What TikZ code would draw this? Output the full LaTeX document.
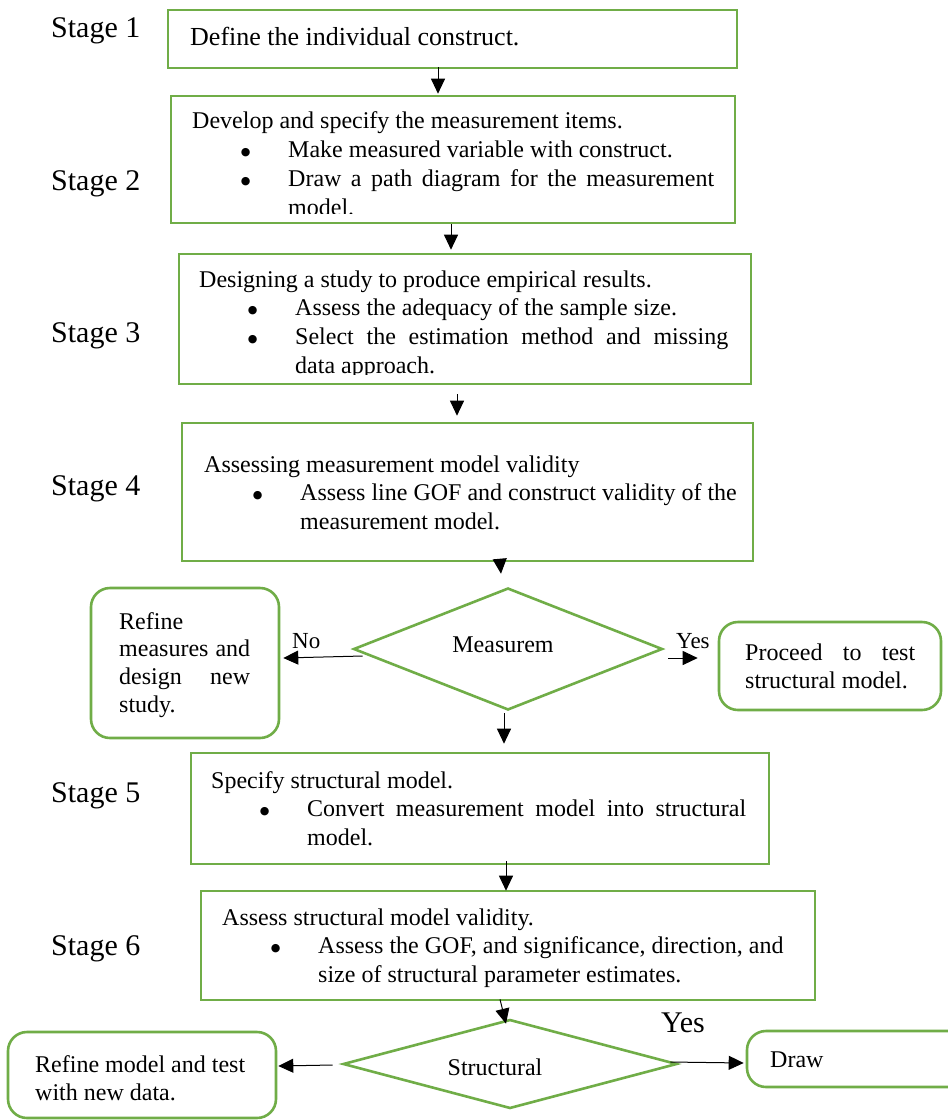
\documentclass[tikz,border=0pt]{standalone}
\usepackage{fontspec}
\setmainfont{Liberation Serif}
\newfontfamily\symfont{DejaVu Sans}
\usetikzlibrary{arrows.meta,shapes.geometric}
\definecolor{boxgreen}{RGB}{112,173,71}
% a justified line of fixed width
\newcommand{\jline}[2]{\hbox to #1{\spaceskip=.25em plus 1fil\relax #2}}
% bulleted line and its continuation
\newcommand{\bigbullet}{\raisebox{2pt}{\symfont\fontsize{11}{11}\selectfont ●}}
\newcommand{\bitem}[1]{\hbox{\kern53.5pt\hbox to 0pt{\hss\bigbullet\hss}\kern42.5pt #1}}
\newcommand{\contline}[1]{\hbox{\kern96pt #1}}
% stack of lines, baseline at the first one
\newcommand{\linestack}[2]{\vtop{\baselineskip=#1\relax\lineskiplimit=-100pt #2}}
\tikzset{
  stagebox/.style={draw=boxgreen, line width=2.6pt, rectangle, inner sep=0pt},
  sidebox/.style={stagebox, rounded corners=19pt},
  decision/.style={draw=boxgreen, line width=2.6pt, diamond, inner sep=0pt},
  txt/.style={inner sep=0pt, anchor=base west, font=\fontsize{24}{29}\selectfont},
  midtxt/.style={txt, anchor=base},
  stagelabel/.style={txt, font=\fontsize{30}{36}\selectfont},
  arr/.style={-{Triangle[length=15pt,width=14pt]}, line width=1pt, black},
}
\begin{document}
\begin{tikzpicture}[x=1pt,y=-1pt]
\fill[white] (0,0) rectangle (948,1120);
\useasboundingbox (0,0) rectangle (948,1120);

% stage labels
\node[stagelabel] (s1) at (51,37) {Stage 1};
\node[stagelabel] (s2) at (51,190) {Stage 2};
\node[stagelabel] (s3) at (51,342) {Stage 3};
\node[stagelabel] (s4) at (51,495) {Stage 4};
\node[stagelabel] (s5) at (51,802) {Stage 5};
\node[stagelabel] (s6) at (51,955) {Stage 6};

% stage boxes
\node[stagebox, minimum width=569pt, minimum height=58pt] (b1) at (452.5,39) {};
\node[stagebox, minimum width=564pt, minimum height=127pt] (b2) at (453,159.5) {};
\node[stagebox, minimum width=572pt, minimum height=130pt] (b3) at (465,319) {};
\node[stagebox, minimum width=571pt, minimum height=138pt] (b4) at (467.5,492) {};
\node[stagebox, minimum width=578pt, minimum height=111pt] (b5) at (480,808.5) {};
\node[stagebox, minimum width=614pt, minimum height=109pt] (b6) at (508,945.5) {};

% decisions
\node[decision, minimum width=309pt, minimum height=122pt] (d1) at (508,649) {};
\node[decision, minimum width=334pt, minimum height=89pt] (d2) at (510,1064) {};
\node[midtxt] (d1t) at (503,652) {Measurem};
\node[midtxt] (d2t) at (495,1075) {Structural};

% outcome boxes
\node[sidebox, minimum width=188pt, minimum height=150pt] (r1) at (185,663) {};
\node[sidebox, minimum width=222pt, minimum height=88pt] (p1) at (830,666) {};
\node[sidebox, minimum width=268pt, minimum height=86pt] (r2) at (142,1075) {};
\node[sidebox, minimum width=223pt, minimum height=56pt] (dr) at (858.5,1059) {};

% box texts
\node[txt, font=\fontsize{26}{31}\selectfont] (t1) at (190,45.5) {Define the individual construct.};

\begin{scope}
  \clip (171,96) rectangle (735,213.5);
  \node[txt] (t2) at (192,128) {\linestack{29.3pt}{%
    \hbox{Develop and specify the measurement items.}
    \bitem{Make measured variable with construct.}
    \bitem{\jline{426pt}{Draw a path diagram for the measurement}}
    \contline{model.}}};
\end{scope}

\begin{scope}
  \clip (179,254) rectangle (751,374);
  \node[txt] (t3) at (199,287) {\linestack{28.7pt}{%
    \hbox{Designing a study to produce empirical results.}
    \bitem{Assess the adequacy of the sample size.}
    \bitem{\jline{433pt}{Select the estimation method and missing}}
    \contline{data approach.}}};
\end{scope}

\node[txt] (t4) at (204,472) {\linestack{28.5pt}{%
  \hbox{Assessing measurement model validity}
  \bitem{Assess line GOF and construct validity of the}
  \contline{measurement model.}}};

\node[txt] (t5) at (211,788) {\linestack{28.5pt}{%
  \hbox{Specify structural model.}
  \bitem{\jline{439pt}{Convert measurement model into structural}}
  \contline{model.}}};

\node[txt] (t6) at (222,925) {\linestack{28.5pt}{%
  \hbox{Assess structural model validity.}
  \bitem{Assess the GOF, and significance, direction, and}
  \contline{size of structural parameter estimates.}}};

\node[txt] (r1t) at (119,629) {\linestack{27.7pt}{%
  \hbox{Refine}
  \jline{131pt}{measures and}
  \jline{131pt}{design new}
  \hbox{study.}}};

\node[txt] (p1t) at (745,660) {\linestack{28pt}{%
  \jline{170pt}{Proceed to test}
  \hbox{structural model.}}};

\node[txt] (r2t) at (35,1072) {\linestack{28pt}{%
  \hbox{Refine model and test}
  \hbox{with new data.}}};

\node[txt] (drt) at (770,1067) {Draw};

% branch labels
\node[txt, font=\fontsize{23}{28}\selectfont] (no1) at (292,648) {No};
\node[txt, font=\fontsize{23}{28}\selectfont] (yes1) at (676,648) {Yes};
\node[stagelabel] (yes2) at (661,1032) {Yes};

% connectors
\draw[arr] ([shift={(-14.5,-2)}]b1.south) -- ([shift={(-15,-1)}]b2.north);
\draw[arr] ([shift={(-2,0)}]b2.south) -- ([shift={(-14,-3)}]b3.north);
\draw[arr] ([shift={(-8,9)}]b3.south) -- ([shift={(-10.5,-6)}]b4.north);
\draw[arr] ([shift={(32.5,0)}]b4.south) -- ([shift={(-7,-13)}]d1.north);
\draw[arr] ([shift={(-4,2)}]d1.south) -- ([shift={(24,-8)}]b5.north);
\draw[arr] ([shift={(26,-4)}]b5.south) -- ([shift={(-2,1)}]b6.north);
\draw[arr] ([shift={(-8,-2)}]b6.south) -- ([shift={(-4,5.5)}]d2.north);
\draw[arr] ([shift={(10.5,7)}]d1.west) -- ([shift={(3,-5)}]r1.east);
\draw[arr] ([shift={(4.5,9)}]d1.east) -- ([shift={(-20,-8)}]p1.west);
\draw[arr] ([shift={(-9,1)}]d2.west) -- ([shift={(1,-9)}]r2.east);
\draw[arr] ([shift={(-8,-2)}]d2.east) -- ([shift={(-2,4)}]dr.west);
\end{tikzpicture}
\end{document}
